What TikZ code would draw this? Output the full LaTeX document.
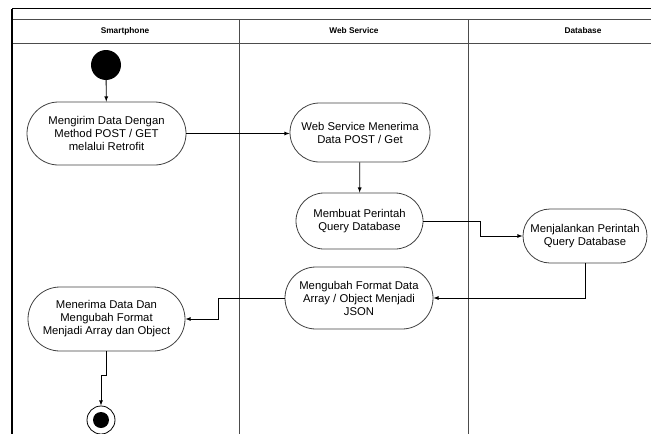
\documentclass[tikz,border=0pt]{standalone}
\usepackage{fontspec}
\setmainfont{Liberation Sans}
\usetikzlibrary{arrows, shapes, positioning}

\begin{document}
\begin{tikzpicture}[x=1pt, y=-1pt,
        act/.style={rounded rectangle, draw=black!75, line width=0.8pt, align=center, inner sep=2pt, font=\fontsize{11.3}{13}\selectfont},
        lane/.style={draw=black!70, line width=0.8pt},
        hdr/.style={font=\fontsize{8.3}{9}\selectfont\bfseries},
        flow/.style={-latex, line width=0.8pt}]
        \useasboundingbox (0,0) rectangle (651,434);

        % swimlanes
        \coordinate (tl) at (12,8.5);
        \coordinate (l1) at (239.5,19);
        \coordinate (l2) at (468.5,19);
        \draw[line width=1.4pt] (tl) -- (651,8.5);
        \draw[lane] (12,19) -- (651,19);
        \draw[lane] (12,43) -- (651,43);
        \draw[line width=1.2pt] (tl) -- (12,434);
        \draw[lane] (l1) -- (239.5,434);
        \draw[lane] (l2) -- (468.5,434);
        \node[hdr] (hdA) at (125,31) {Smartphone};
        \node[hdr] (hdB) at (354,31) {Web Service};
        \node[hdr] (hdC) at (583,31) {Database};

        % activities
        \node[circle, fill=black, minimum size=30pt, inner sep=0pt] (start) at (106,65) {};
        \node[act, minimum width=163pt, minimum height=63pt] (kirim) at (106.5,133.5) {Mengirim Data Dengan\\Method POST / GET\\melalui Retrofit};
        \node[act, minimum width=144pt, minimum height=59pt] (terima) at (360,132.5) {Web Service Menerima\\Data POST / Get};
        \node[act, minimum width=131pt, minimum height=56pt] (query) at (359.5,221) {Membuat Perintah\\Query Database};
        \node[act, minimum width=128pt, minimum height=54pt] (jalan) at (585,236) {Menjalankan Perintah\\Query Database};
        \node[act, minimum width=152pt, minimum height=62pt] (json) at (359,298) {Mengubah Format Data\\Array / Object Menjadi\\JSON};
        \node[act, minimum width=161pt, minimum height=64pt] (ubah) at (106.5,319) {Menerima Data Dan\\Mengubah Format\\Menjadi Array dan Object};
        \node[circle, draw, line width=0.8pt, minimum size=28pt, inner sep=0pt] (fin) at (101,420) {};
        \node[circle, fill=black, minimum size=16pt, inner sep=0pt] (finDot) at (fin) {};

        % bends
        \coordinate (b1) at (480,0);
        \coordinate (b2) at (218,0);
        \coordinate (b3) at (0,375);

        \draw[flow] (start) -- (kirim);
        \draw[flow] (kirim.east) -- (kirim.east -| terima.west);
        \draw[flow] (terima) -- (query);
        \draw[flow] (query.east) -- (query.east -| b1) |- (jalan.west);
        \draw[flow] (jalan.south) |- (json.east);
        \draw[flow] (json.west) -- (json.west -| b2) |- (ubah.east);
        \draw[flow] (ubah.south) -- (ubah.south |- b3) -| (fin.north);
    \end{tikzpicture}
\end{document}
